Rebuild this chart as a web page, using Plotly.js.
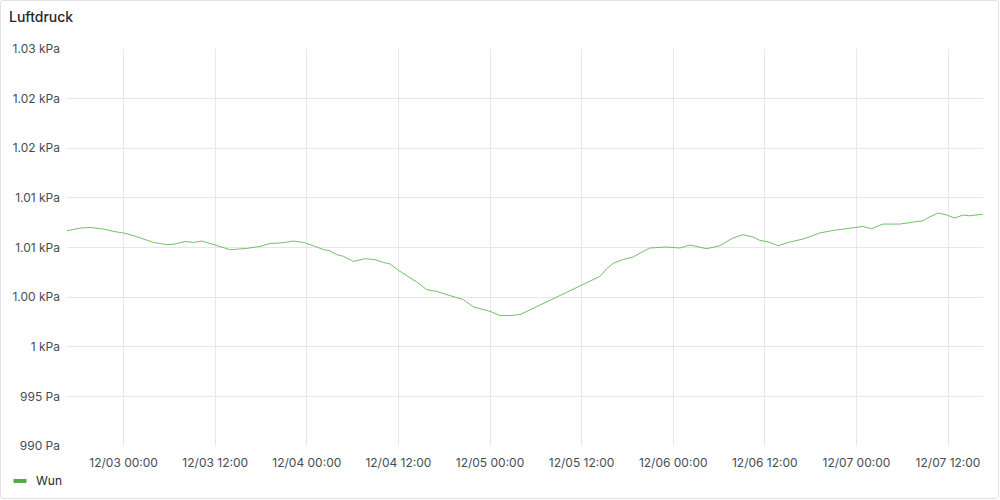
<!DOCTYPE html>
<html>
<head>
<meta charset="utf-8">
<script src="https://cdn.plot.ly/plotly-3.0.1.min.js"></script>
<style>
  html, body { margin: 0; padding: 0; background: #ffffff; }
  #wrap { position: relative; width: 1000px; height: 500px; overflow: hidden; }
  #chart { position: absolute; left: 0; top: 0; width: 1000px; height: 500px; }
  #frame { position: absolute; left: 0; top: 0; width: 999px; height: 499px; box-sizing: border-box;
           border: 1px solid #e2e3e5; border-radius: 3px; pointer-events: none; }
</style>
</head>
<body>
<div id="wrap"><div id="chart"></div><div id="frame"></div></div>
<script>
// ---- data ----
const seriesName = "Wun";
const times = [
  "2023-12-02 16:35","2023-12-02 18:20","2023-12-02 19:38","2023-12-02 21:23","2023-12-02 22:41",
  "2023-12-03 00:00","2023-12-03 01:19","2023-12-03 02:37","2023-12-03 03:56","2023-12-03 05:41",
  "2023-12-03 06:46","2023-12-03 08:05","2023-12-03 09:10","2023-12-03 10:16","2023-12-03 11:47",
  "2023-12-03 13:05","2023-12-03 13:58","2023-12-03 16:09","2023-12-03 17:53","2023-12-03 19:12",
  "2023-12-03 20:31","2023-12-03 22:15","2023-12-03 23:34","2023-12-04 00:52","2023-12-04 02:11",
  "2023-12-04 02:58","2023-12-04 03:56","2023-12-04 04:48","2023-12-04 06:06","2023-12-04 07:38",
  "2023-12-04 08:57","2023-12-04 10:02","2023-12-04 10:55","2023-12-04 12:00","2023-12-04 13:05",
  "2023-12-04 14:24","2023-12-04 15:43","2023-12-04 17:01","2023-12-04 18:46","2023-12-04 20:30",
  "2023-12-04 21:49","2023-12-04 23:07","2023-12-05 00:00","2023-12-05 01:19","2023-12-05 02:37",
  "2023-12-05 03:56","2023-12-05 14:24","2023-12-05 15:16","2023-12-05 16:08","2023-12-05 17:27",
  "2023-12-05 18:45","2023-12-05 20:04","2023-12-05 20:56","2023-12-05 23:08","2023-12-06 00:52",
  "2023-12-06 02:11","2023-12-06 04:22","2023-12-06 06:06","2023-12-06 07:50","2023-12-06 09:09",
  "2023-12-06 10:28","2023-12-06 11:20","2023-12-06 12:39","2023-12-06 13:44","2023-12-06 15:16",
  "2023-12-06 17:01","2023-12-06 19:11","2023-12-06 20:56","2023-12-06 23:07","2023-12-07 00:52",
  "2023-12-07 01:58","2023-12-07 03:29","2023-12-07 05:40","2023-12-07 07:24","2023-12-07 08:43",
  "2023-12-07 09:35","2023-12-07 10:41","2023-12-07 11:46","2023-12-07 12:52","2023-12-07 13:57",
  "2023-12-07 14:49","2023-12-07 16:21","2023-12-07 16:34"
];
const pressure = [
  1011.69,1011.96,1012.02,1011.86,1011.62,
  1011.46,1011.19,1010.85,1010.51,1010.28,
  1010.35,1010.61,1010.51,1010.65,1010.28,
  1009.95,1009.78,1009.91,1010.11,1010.41,
  1010.45,1010.65,1010.51,1010.18,1009.78,
  1009.68,1009.28,1009.11,1008.60,1008.87,
  1008.77,1008.50,1008.34,1007.70,1007.20,
  1006.53,1005.75,1005.58,1005.15,1004.75,
  1004.01,1003.74,1003.57,1003.14,1003.14,
  1003.24,1007.09,1007.85,1008.40,1008.80,
  1009.04,1009.61,1009.95,1010.05,1009.95,
  1010.25,1009.88,1010.18,1010.96,1011.29,
  1011.06,1010.72,1010.52,1010.18,1010.55,
  1010.85,1011.46,1011.72,1011.96,1012.12,
  1011.89,1012.36,1012.36,1012.56,1012.70,
  1013.07,1013.47,1013.30,1012.97,1013.27,
  1013.20,1013.33,1013.30
];
const yTickVals = [990, 995, 1000, 1005, 1010, 1015, 1020, 1025, 1030];
const yTickText = ["990 Pa", "995 Pa", "1 kPa", "1.00 kPa", "1.01 kPa", "1.01 kPa", "1.02 kPa", "1.02 kPa", "1.03 kPa"];
const xRange = ["2023-12-02 16:35", "2023-12-07 16:35"];
const chartTitle = "Luftdruck";

// ---- styles ----
const green = "#73BF69";
const textColor = "#464c54";
const gridColor = "#e6e7e8";
const fontFamily = "Inter, 'Noto Sans', sans-serif";

const trace = {
  x: times, y: pressure, type: "scatter", mode: "lines", name: seriesName,
  line: { color: green, width: 1 }, showlegend: false, hoverinfo: "x+y"
};

const layout = {
  width: 1000, height: 500,
  paper_bgcolor: "#ffffff", plot_bgcolor: "#ffffff",
  margin: { l: 67, r: 17, t: 49, b: 53.5, pad: 0 },
  font: { family: fontFamily, size: 12, color: textColor },
  title: {
    text: chartTitle, xref: "container", yref: "container",
    x: 0.009, xanchor: "left", y: 0.966, yanchor: "middle",
    font: { family: fontFamily, size: 14, color: "#24292e", weight: 500 }
  },
  xaxis: {
    type: "date", range: xRange,
    tick0: "2023-12-03 00:00", dtick: 43200000, tickformat: "%m/%d %H:%M",
    showgrid: true, gridcolor: gridColor, gridwidth: 1,
    zeroline: false, showline: false, ticks: "", ticklabelstandoff: 8,
    tickfont: { family: fontFamily, size: 12, color: textColor }, fixedrange: true
  },
  yaxis: {
    range: [990, 1030], tickvals: yTickVals, ticktext: yTickText,
    showgrid: true, gridcolor: gridColor, gridwidth: 1,
    zeroline: false, showline: false, ticks: "", ticklabelstandoff: 6,
    tickfont: { family: fontFamily, size: 12, color: textColor }, fixedrange: true
  },
  shapes: [
    { type: "line", xref: "paper", yref: "paper",
      x0: (13.5 - 67) / 916, x1: (26.5 - 67) / 916,
      y0: -(481.5 - 446.5) / 397.5, y1: -(481.5 - 446.5) / 397.5,
      line: { color: "#56A64B", width: 4 } }
  ],
  annotations: [
    { text: seriesName, xref: "paper", yref: "paper", showarrow: false,
      x: (34 - 67) / 916, xanchor: "left", y: -(481 - 446.5) / 397.5, yanchor: "middle",
      font: { family: fontFamily, size: 12, color: "#24292e" } }
  ],
  showlegend: false
};

Plotly.newPlot("chart", [trace], layout, { displayModeBar: false, staticPlot: true });
</script>
</body>
</html>
